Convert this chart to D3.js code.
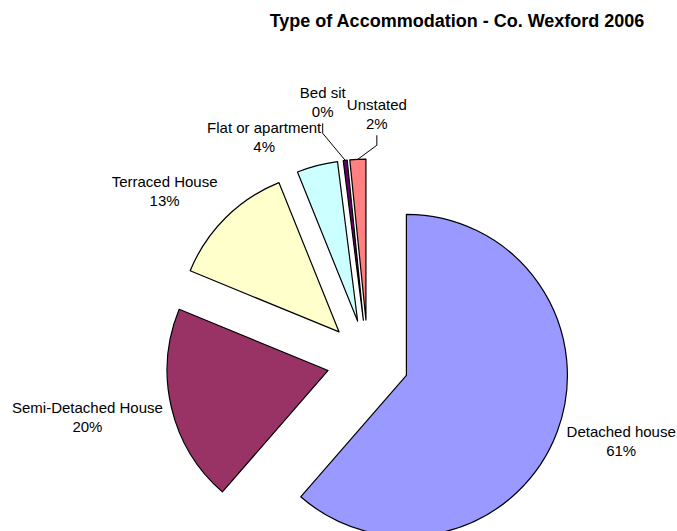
<!DOCTYPE html>
<html>
<head>
<meta charset="utf-8">
<script src="https://cdn.jsdelivr.net/npm/d3@7"></script>
<style>
  body { margin: 0; background: #fff; }
  text { font-family: "Liberation Sans", Arial, sans-serif; fill: #000; }
</style>
</head>
<body>
<svg></svg>
<script>
// data (percent of households)
const categories = ["Detached house", "Semi-Detached House", "Terraced House", "Flat or apartment", "Bed sit", "Unstated"]
const values = [61.4, 19.8, 12.7, 4.1, 0.4, 1.6]
const colors = ["#9999FF", "#993366", "#FFFFCC", "#CCFFFF", "#660066", "#FF8080"]
const title = "Type of Accommodation - Co. Wexford 2006"

// label nudges from the outer edge of each slice (layout only)
const labelNudge = [[64, 5], [-84, 5.5], [-61, -31], [-53, -33], [-22.5, -62], [19, -49]]
const hasLeader = [false, false, false, false, true, true]

const width = 677, height = 531
const cx = 368, cy = 361, radius = 161, explode = 41

const svg = d3.select("svg")
  .attr("width", width)
  .attr("height", height)

svg.append("text")
  .attr("x", 457)
  .attr("y", 26.5)
  .attr("text-anchor", "middle")
  .style("font-size", "18px")
  .style("font-weight", "bold")
  .text(title)

const data = categories.map((c, i) => {
  return { name: c, value: values[i], color: colors[i], i: i }
})

const pie = d3.pie()
  .sort(null)
  .value(d => d.value)

const arc = d3.arc()
  .innerRadius(0)
  .outerRadius(radius)

const arcs = pie(data)
const total = d3.sum(values)

const g = svg.append("g").attr("transform", `translate(${cx},${cy})`)

const mid = d => (d.startAngle + d.endAngle) / 2

g.selectAll("path.slice")
  .data(arcs)
  .join("path")
  .attr("class", "slice")
  .attr("d", arc)
  .attr("transform", d => {
    const a = mid(d)
    return `translate(${explode * Math.sin(a)},${-explode * Math.cos(a)})`
  })
  .attr("fill", d => d.data.color)
  .attr("stroke", "#000")
  .attr("stroke-width", 1.2)
  .attr("stroke-linejoin", "round")

// labels
arcs.forEach(d => {
  const a = mid(d)
  const rr = radius + explode
  const px = rr * Math.sin(a), py = -rr * Math.cos(a)
  const n = labelNudge[d.data.i]
  const lx = px + n[0], ly = py + n[1]
  const pct = Math.round(d.data.value / total * 100) + "%"

  const t = g.append("text")
    .attr("text-anchor", "middle")
    .style("font-size", "15px")
  t.append("tspan").attr("x", lx).attr("y", ly).text(d.data.name)
  t.append("tspan").attr("x", lx).attr("y", ly + 19).text(pct)

  if (hasLeader[d.data.i]) {
    const pts = [[lx, ly + 25], [lx, ly + 35], [px, py]]
    g.append("path")
      .attr("d", d3.line()(pts))
      .attr("fill", "none")
      .attr("stroke", "#000")
      .attr("stroke-width", 1)
  }
})
</script>
</body>
</html>
